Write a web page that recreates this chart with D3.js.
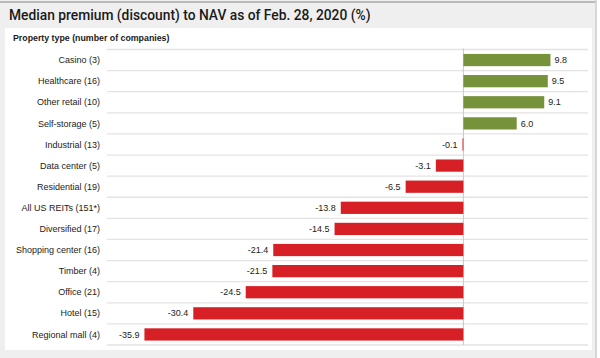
<!DOCTYPE html>
<html><head><meta charset="utf-8">
<script src="https://cdn.jsdelivr.net/npm/d3@7"></script>
<style>
body{margin:0;padding:0;background:#fff;}
svg{display:block;}
</style></head>
<body>
<svg id="c" width="600" height="358"></svg>
<script>
const categories = ["Casino (3)","Healthcare (16)","Other retail (10)","Self-storage (5)","Industrial (13)","Data center (5)","Residential (19)","All US REITs (151*)","Diversified (17)","Shopping center (16)","Timber (4)","Office (21)","Hotel (15)","Regional mall (4)"];
const values = [9.8,9.5,9.1,6.0,-0.1,-3.1,-6.5,-13.8,-14.5,-21.4,-21.5,-24.5,-30.4,-35.9];
const title = "Median premium (discount) to NAV as of Feb. 28, 2020 (%)";
const subtitle = "Property type (number of companies)";

const data = categories.map((c,i)=>({c, v: values[i]}));
const svg = d3.select("#c");

// frame
svg.append("rect").attr("x",0).attr("y",0).attr("width",597).attr("height",358).attr("fill","#efefef");
svg.append("rect").attr("x",0).attr("y",1).attr("width",597).attr("height",2).attr("fill","#b9b9b9");
svg.append("rect").attr("x",595).attr("y",0).attr("width",2).attr("height",358).attr("fill","#d6d6d6");
svg.append("rect").attr("x",5).attr("y",28).attr("width",587).attr("height",322).attr("fill","#ffffff");

svg.append("text").attr("x",9).attr("y",20).text(title)
  .attr("font-family","Roboto, 'Open Sans', sans-serif").attr("font-size",13.8).attr("font-weight",500).attr("fill","#1a1a1a");
svg.append("text").attr("x",13).attr("y",41).text(subtitle)
  .attr("font-family","'Liberation Sans', Arial, sans-serif").attr("font-size",8.8).attr("font-weight","bold").attr("fill","#1a1a1a");

const x = d3.scaleLinear().domain([-40,12]).range([108,570]);
const y = d3.scaleBand().domain(categories).range([49.5,345]).paddingInner(0.42).paddingOuter(0.21);
const step = y.step();

// gridlines at row boundaries
const bounds = categories.map(c => y(c) - y.paddingInner()*step/2).concat([y(categories[categories.length-1]) + y.bandwidth() + y.paddingInner()*step/2]);
svg.append("g").selectAll("line").data(bounds).join("line")
  .attr("x1",107).attr("x2",588).attr("y1",d=>d).attr("y2",d=>d)
  .attr("stroke","#e3e3e3").attr("stroke-width",1.3);

// zero line
svg.append("line").attr("x1",x(0)).attr("x2",x(0)).attr("y1",bounds[0]-1).attr("y2",bounds[bounds.length-1])
  .attr("stroke","#c8c8c8").attr("stroke-width",1);

// bars
svg.append("g").selectAll("rect").data(data).join("rect")
  .attr("x",d=>x(Math.min(0,d.v))).attr("width",d=>Math.abs(x(d.v)-x(0)))
  .attr("y",d=>y(d.c)).attr("height",y.bandwidth())
  .attr("fill",d=>d.v>=0?"#76923b":"#d71f26");

// category labels
svg.append("g").selectAll("text").data(data).join("text")
  .attr("x",100).attr("y",d=>y(d.c)+y.bandwidth()/2).attr("dy","0.35em")
  .attr("text-anchor","end").text(d=>d.c)
  .attr("font-family","'Liberation Sans', Arial, sans-serif").attr("font-size",9).attr("fill","#222");

// value labels
svg.append("g").selectAll("text").data(data).join("text")
  .attr("x",d=>d.v>=0? x(d.v)+4 : x(d.v)-5)
  .attr("y",d=>y(d.c)+y.bandwidth()/2).attr("dy","0.35em")
  .attr("text-anchor",d=>d.v>=0?"start":"end")
  .text(d=>d.v.toFixed(1))
  .attr("font-family","'Liberation Sans', Arial, sans-serif").attr("font-size",9).attr("fill","#222");
</script>
</body></html>
